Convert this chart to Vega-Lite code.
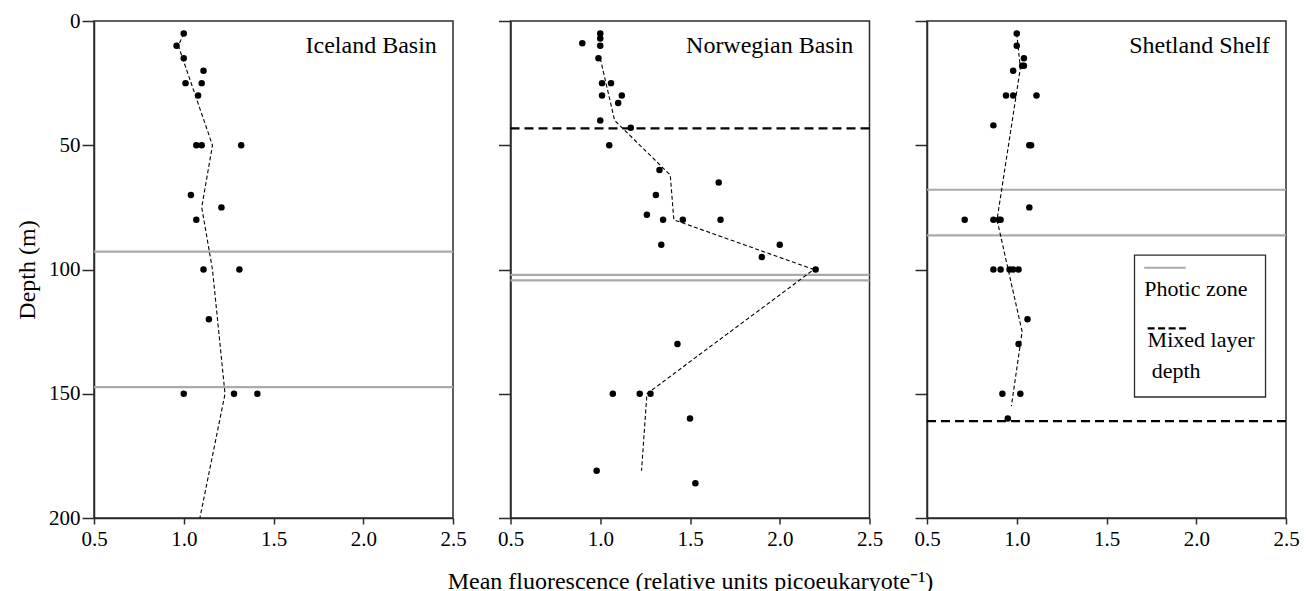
{
  "$schema": "https://vega.github.io/schema/vega-lite/v6.json",
  "background": "white",
  "padding": {"left": 14, "top": 9, "right": 5, "bottom": 0},
  "spacing": 57.5,
  "bounds": "flush",
  "datasets": {
    "obs": [
      {"site": "Iceland Basin", "fluor": 1.00, "depth": 5},
      {"site": "Iceland Basin", "fluor": 0.96, "depth": 10},
      {"site": "Iceland Basin", "fluor": 1.00, "depth": 15},
      {"site": "Iceland Basin", "fluor": 1.11, "depth": 20},
      {"site": "Iceland Basin", "fluor": 1.01, "depth": 25},
      {"site": "Iceland Basin", "fluor": 1.10, "depth": 25},
      {"site": "Iceland Basin", "fluor": 1.08, "depth": 30},
      {"site": "Iceland Basin", "fluor": 1.07, "depth": 50},
      {"site": "Iceland Basin", "fluor": 1.10, "depth": 50},
      {"site": "Iceland Basin", "fluor": 1.32, "depth": 50},
      {"site": "Iceland Basin", "fluor": 1.04, "depth": 70},
      {"site": "Iceland Basin", "fluor": 1.21, "depth": 75},
      {"site": "Iceland Basin", "fluor": 1.07, "depth": 80},
      {"site": "Iceland Basin", "fluor": 1.11, "depth": 100},
      {"site": "Iceland Basin", "fluor": 1.31, "depth": 100},
      {"site": "Iceland Basin", "fluor": 1.14, "depth": 120},
      {"site": "Iceland Basin", "fluor": 1.00, "depth": 150},
      {"site": "Iceland Basin", "fluor": 1.28, "depth": 150},
      {"site": "Iceland Basin", "fluor": 1.41, "depth": 150},
      {"site": "Norwegian Basin", "fluor": 1.00, "depth": 5},
      {"site": "Norwegian Basin", "fluor": 1.00, "depth": 7},
      {"site": "Norwegian Basin", "fluor": 1.00, "depth": 10},
      {"site": "Norwegian Basin", "fluor": 0.90, "depth": 9},
      {"site": "Norwegian Basin", "fluor": 0.99, "depth": 15},
      {"site": "Norwegian Basin", "fluor": 1.01, "depth": 25},
      {"site": "Norwegian Basin", "fluor": 1.06, "depth": 25},
      {"site": "Norwegian Basin", "fluor": 1.01, "depth": 30},
      {"site": "Norwegian Basin", "fluor": 1.12, "depth": 30},
      {"site": "Norwegian Basin", "fluor": 1.10, "depth": 33},
      {"site": "Norwegian Basin", "fluor": 1.00, "depth": 40},
      {"site": "Norwegian Basin", "fluor": 1.17, "depth": 43},
      {"site": "Norwegian Basin", "fluor": 1.05, "depth": 50},
      {"site": "Norwegian Basin", "fluor": 1.33, "depth": 60},
      {"site": "Norwegian Basin", "fluor": 1.66, "depth": 65},
      {"site": "Norwegian Basin", "fluor": 1.31, "depth": 70},
      {"site": "Norwegian Basin", "fluor": 1.26, "depth": 78},
      {"site": "Norwegian Basin", "fluor": 1.35, "depth": 80},
      {"site": "Norwegian Basin", "fluor": 1.46, "depth": 80},
      {"site": "Norwegian Basin", "fluor": 1.67, "depth": 80},
      {"site": "Norwegian Basin", "fluor": 1.34, "depth": 90},
      {"site": "Norwegian Basin", "fluor": 2.00, "depth": 90},
      {"site": "Norwegian Basin", "fluor": 1.90, "depth": 95},
      {"site": "Norwegian Basin", "fluor": 2.20, "depth": 100},
      {"site": "Norwegian Basin", "fluor": 1.43, "depth": 130},
      {"site": "Norwegian Basin", "fluor": 1.07, "depth": 150},
      {"site": "Norwegian Basin", "fluor": 1.22, "depth": 150},
      {"site": "Norwegian Basin", "fluor": 1.28, "depth": 150},
      {"site": "Norwegian Basin", "fluor": 1.50, "depth": 160},
      {"site": "Norwegian Basin", "fluor": 0.98, "depth": 181},
      {"site": "Norwegian Basin", "fluor": 1.53, "depth": 186},
      {"site": "Shetland Shelf", "fluor": 1.00, "depth": 5},
      {"site": "Shetland Shelf", "fluor": 1.00, "depth": 10},
      {"site": "Shetland Shelf", "fluor": 1.04, "depth": 15},
      {"site": "Shetland Shelf", "fluor": 1.03, "depth": 18},
      {"site": "Shetland Shelf", "fluor": 1.04, "depth": 18},
      {"site": "Shetland Shelf", "fluor": 0.98, "depth": 20},
      {"site": "Shetland Shelf", "fluor": 0.94, "depth": 30},
      {"site": "Shetland Shelf", "fluor": 0.98, "depth": 30},
      {"site": "Shetland Shelf", "fluor": 1.11, "depth": 30},
      {"site": "Shetland Shelf", "fluor": 0.87, "depth": 42},
      {"site": "Shetland Shelf", "fluor": 1.07, "depth": 50},
      {"site": "Shetland Shelf", "fluor": 1.08, "depth": 50},
      {"site": "Shetland Shelf", "fluor": 1.07, "depth": 75},
      {"site": "Shetland Shelf", "fluor": 0.71, "depth": 80},
      {"site": "Shetland Shelf", "fluor": 0.87, "depth": 80},
      {"site": "Shetland Shelf", "fluor": 0.90, "depth": 80},
      {"site": "Shetland Shelf", "fluor": 0.91, "depth": 80},
      {"site": "Shetland Shelf", "fluor": 0.87, "depth": 100},
      {"site": "Shetland Shelf", "fluor": 0.91, "depth": 100},
      {"site": "Shetland Shelf", "fluor": 0.96, "depth": 100},
      {"site": "Shetland Shelf", "fluor": 0.98, "depth": 100},
      {"site": "Shetland Shelf", "fluor": 1.01, "depth": 100},
      {"site": "Shetland Shelf", "fluor": 1.06, "depth": 120},
      {"site": "Shetland Shelf", "fluor": 1.01, "depth": 130},
      {"site": "Shetland Shelf", "fluor": 0.92, "depth": 150},
      {"site": "Shetland Shelf", "fluor": 1.02, "depth": 150},
      {"site": "Shetland Shelf", "fluor": 0.95, "depth": 160}
    ],
    "fit": [
      {"site": "Iceland Basin", "fluor": 1.00, "depth": 5},
      {"site": "Iceland Basin", "fluor": 0.97, "depth": 10},
      {"site": "Iceland Basin", "fluor": 1.16, "depth": 50},
      {"site": "Iceland Basin", "fluor": 1.10, "depth": 75},
      {"site": "Iceland Basin", "fluor": 1.16, "depth": 100},
      {"site": "Iceland Basin", "fluor": 1.23, "depth": 150},
      {"site": "Iceland Basin", "fluor": 1.09, "depth": 200},
      {"site": "Norwegian Basin", "fluor": 1.00, "depth": 15},
      {"site": "Norwegian Basin", "fluor": 1.08, "depth": 40},
      {"site": "Norwegian Basin", "fluor": 1.39, "depth": 62},
      {"site": "Norwegian Basin", "fluor": 1.41, "depth": 80},
      {"site": "Norwegian Basin", "fluor": 2.19, "depth": 100},
      {"site": "Norwegian Basin", "fluor": 1.26, "depth": 150},
      {"site": "Norwegian Basin", "fluor": 1.23, "depth": 181},
      {"site": "Shetland Shelf", "fluor": 1.00, "depth": 5},
      {"site": "Shetland Shelf", "fluor": 1.02, "depth": 19},
      {"site": "Shetland Shelf", "fluor": 0.89, "depth": 80},
      {"site": "Shetland Shelf", "fluor": 1.03, "depth": 125},
      {"site": "Shetland Shelf", "fluor": 0.97, "depth": 155}
    ],
    "limits": [
      {"site": "Iceland Basin", "kind": "photic", "depth": 92.8},
      {"site": "Iceland Basin", "kind": "photic", "depth": 147.3},
      {"site": "Norwegian Basin", "kind": "photic", "depth": 102.2},
      {"site": "Norwegian Basin", "kind": "photic", "depth": 104.4},
      {"site": "Norwegian Basin", "kind": "mixed", "depth": 43.2},
      {"site": "Shetland Shelf", "kind": "photic", "depth": 67.9},
      {"site": "Shetland Shelf", "kind": "photic", "depth": 86.3},
      {"site": "Shetland Shelf", "kind": "mixed", "depth": 161}
    ]
  },
  "config": {
    "font": "Liberation Serif",
    "view": {"stroke": "#2b2b2b", "strokeWidth": 1.5},
    "axis": {
      "grid": false,
      "domainColor": "#2b2b2b",
      "domainWidth": 1.5,
      "tickColor": "#2b2b2b",
      "tickWidth": 1.5,
      "labelColor": "black",
      "labelFont": "Liberation Serif",
      "labelFontSize": 21,
      "titleFont": "Liberation Serif",
      "titleFontSize": 24,
      "titleFontWeight": "normal",
      "titleColor": "black",
      "labelFlush": false,
      "labelOverlap": false
    },
    "axisX": {"tickSize": 6, "labelPadding": 4, "titlePadding": 20},
    "axisY": {"tickSize": 12, "labelPadding": 2, "titlePadding": 9.5}
  },
  "hconcat": [
    {
      "width": 359,
      "height": 497,
      "layer": [
        {
          "data": {"name": "limits"},
          "transform": [{"filter": "datum.site === 'Iceland Basin' && datum.kind === 'photic'"}],
          "mark": {"type": "rule", "color": "#aaaaaa", "strokeWidth": 2.2},
          "encoding": {"y": {"field": "depth", "type": "quantitative", "scale": {"domain": [0, 200], "reverse": true, "nice": false, "zero": false}}}
        },
        {
          "data": {"name": "fit"},
          "transform": [{"filter": "datum.site === 'Iceland Basin'"}],
          "mark": {"type": "line", "color": "black", "strokeWidth": 1.1, "strokeDash": [4, 2.5]},
          "encoding": {
            "x": {"field": "fluor", "type": "quantitative", "scale": {"domain": [0.5, 2.5], "nice": false, "zero": false}},
            "y": {"field": "depth", "type": "quantitative", "scale": {"domain": [0, 200], "reverse": true, "nice": false, "zero": false}},
            "order": {"field": "depth", "type": "quantitative"}
          }
        },
        {
          "data": {"name": "obs"},
          "transform": [{"filter": "datum.site === 'Iceland Basin'"}],
          "mark": {"type": "circle", "size": 42, "color": "black", "opacity": 1},
          "encoding": {
            "x": {"field": "fluor", "type": "quantitative", "scale": {"domain": [0.5, 2.5], "nice": false, "zero": false}, "axis": {"values": [0.5, 1, 1.5, 2, 2.5], "format": ".1f", "title": null}},
            "y": {"field": "depth", "type": "quantitative", "scale": {"domain": [0, 200], "reverse": true, "nice": false, "zero": false}, "axis": {"values": [0, 50, 100, 150, 200], "title": "Depth (m)"}}
          }
        },
        {
          "data": {"values": [{"label": "Iceland Basin"}]},
          "mark": {"type": "text", "align": "right", "baseline": "alphabetic", "fontSize": 24, "color": "black"},
          "encoding": {
            "x": {"datum": 2.41, "type": "quantitative"},
            "y": {"datum": 12.8, "type": "quantitative"},
            "text": {"field": "label"}
          }
        }
      ]
    },
    {
      "width": 359,
      "height": 497,
      "layer": [
        {
          "data": {"name": "limits"},
          "transform": [{"filter": "datum.site === 'Norwegian Basin' && datum.kind === 'photic'"}],
          "mark": {"type": "rule", "color": "#aaaaaa", "strokeWidth": 2.2},
          "encoding": {"y": {"field": "depth", "type": "quantitative", "scale": {"domain": [0, 200], "reverse": true, "nice": false, "zero": false}}}
        },
        {
          "data": {"name": "limits"},
          "transform": [{"filter": "datum.site === 'Norwegian Basin' && datum.kind === 'mixed'"}],
          "mark": {"type": "rule", "color": "black", "strokeWidth": 2.4, "strokeDash": [9, 5]},
          "encoding": {"y": {"field": "depth", "type": "quantitative", "scale": {"domain": [0, 200], "reverse": true, "nice": false, "zero": false}}}
        },
        {
          "data": {"name": "fit"},
          "transform": [{"filter": "datum.site === 'Norwegian Basin'"}],
          "mark": {"type": "line", "color": "black", "strokeWidth": 1.1, "strokeDash": [4, 2.5]},
          "encoding": {
            "x": {"field": "fluor", "type": "quantitative", "scale": {"domain": [0.5, 2.5], "nice": false, "zero": false}},
            "y": {"field": "depth", "type": "quantitative", "scale": {"domain": [0, 200], "reverse": true, "nice": false, "zero": false}},
            "order": {"field": "depth", "type": "quantitative"}
          }
        },
        {
          "data": {"name": "obs"},
          "transform": [{"filter": "datum.site === 'Norwegian Basin'"}],
          "mark": {"type": "circle", "size": 42, "color": "black", "opacity": 1},
          "encoding": {
            "x": {"field": "fluor", "type": "quantitative", "scale": {"domain": [0.5, 2.5], "nice": false, "zero": false}, "axis": {"values": [0.5, 1, 1.5, 2, 2.5], "format": ".1f", "title": "Mean fluorescence (relative units picoeukaryote⁻¹)"}},
            "y": {"field": "depth", "type": "quantitative", "scale": {"domain": [0, 200], "reverse": true, "nice": false, "zero": false}, "axis": {"values": [0, 50, 100, 150, 200], "labels": false, "title": null}}
          }
        },
        {
          "data": {"values": [{"label": "Norwegian Basin"}]},
          "mark": {"type": "text", "align": "right", "baseline": "alphabetic", "fontSize": 24, "color": "black"},
          "encoding": {
            "x": {"datum": 2.41, "type": "quantitative"},
            "y": {"datum": 12.8, "type": "quantitative"},
            "text": {"field": "label"}
          }
        }
      ]
    },
    {
      "width": 359,
      "height": 497,
      "layer": [
        {
          "data": {"name": "limits"},
          "transform": [{"filter": "datum.site === 'Shetland Shelf' && datum.kind === 'photic'"}],
          "mark": {"type": "rule", "color": "#aaaaaa", "strokeWidth": 2.2},
          "encoding": {"y": {"field": "depth", "type": "quantitative", "scale": {"domain": [0, 200], "reverse": true, "nice": false, "zero": false}}}
        },
        {
          "data": {"name": "limits"},
          "transform": [{"filter": "datum.site === 'Shetland Shelf' && datum.kind === 'mixed'"}],
          "mark": {"type": "rule", "color": "black", "strokeWidth": 2.4, "strokeDash": [9, 5]},
          "encoding": {"y": {"field": "depth", "type": "quantitative", "scale": {"domain": [0, 200], "reverse": true, "nice": false, "zero": false}}}
        },
        {
          "data": {"name": "fit"},
          "transform": [{"filter": "datum.site === 'Shetland Shelf'"}],
          "mark": {"type": "line", "color": "black", "strokeWidth": 1.1, "strokeDash": [4, 2.5]},
          "encoding": {
            "x": {"field": "fluor", "type": "quantitative", "scale": {"domain": [0.5, 2.5], "nice": false, "zero": false}},
            "y": {"field": "depth", "type": "quantitative", "scale": {"domain": [0, 200], "reverse": true, "nice": false, "zero": false}},
            "order": {"field": "depth", "type": "quantitative"}
          }
        },
        {
          "data": {"name": "obs"},
          "transform": [{"filter": "datum.site === 'Shetland Shelf'"}],
          "mark": {"type": "circle", "size": 42, "color": "black", "opacity": 1},
          "encoding": {
            "x": {"field": "fluor", "type": "quantitative", "scale": {"domain": [0.5, 2.5], "nice": false, "zero": false}, "axis": {"values": [0.5, 1, 1.5, 2, 2.5], "format": ".1f", "title": null}},
            "y": {"field": "depth", "type": "quantitative", "scale": {"domain": [0, 200], "reverse": true, "nice": false, "zero": false}, "axis": {"values": [0, 50, 100, 150, 200], "labels": false, "title": null}}
          }
        },
        {
          "data": {"values": [{"label": "Shetland Shelf"}]},
          "mark": {"type": "text", "align": "right", "baseline": "alphabetic", "fontSize": 24, "color": "black"},
          "encoding": {
            "x": {"datum": 2.41, "type": "quantitative"},
            "y": {"datum": 12.8, "type": "quantitative"},
            "text": {"field": "label"}
          }
        },
        {
          "data": {"values": [{}]},
          "mark": {"type": "rect", "fill": "white", "stroke": "#2b2b2b", "strokeWidth": 1.3},
          "encoding": {
            "x": {"datum": 1.656, "type": "quantitative"},
            "x2": {"datum": 2.386},
            "y": {"datum": 94.2, "type": "quantitative"},
            "y2": {"datum": 151.3}
          }
        },
        {
          "data": {"values": [{}]},
          "mark": {"type": "rule", "color": "#aaaaaa", "strokeWidth": 2.2},
          "encoding": {
            "x": {"datum": 1.71, "type": "quantitative"},
            "x2": {"datum": 1.941},
            "y": {"datum": 99.3, "type": "quantitative"}
          }
        },
        {
          "data": {"values": [{}]},
          "mark": {"type": "rule", "color": "black", "strokeWidth": 2.2, "strokeDash": [7, 3.5]},
          "encoding": {
            "x": {"datum": 1.729, "type": "quantitative"},
            "x2": {"datum": 1.952},
            "y": {"datum": 123.7, "type": "quantitative"}
          }
        },
        {
          "data": {"values": [{"label": "Photic zone", "lx": 1.71, "ly": 110.7}, {"label": "Mixed layer", "lx": 1.729, "ly": 131.2}, {"label": "depth", "lx": 1.752, "ly": 143.5}]},
          "mark": {"type": "text", "align": "left", "baseline": "alphabetic", "fontSize": 22, "color": "black"},
          "encoding": {
            "x": {"field": "lx", "type": "quantitative"},
            "y": {"field": "ly", "type": "quantitative"},
            "text": {"field": "label"}
          }
        }
      ]
    }
  ]
}
